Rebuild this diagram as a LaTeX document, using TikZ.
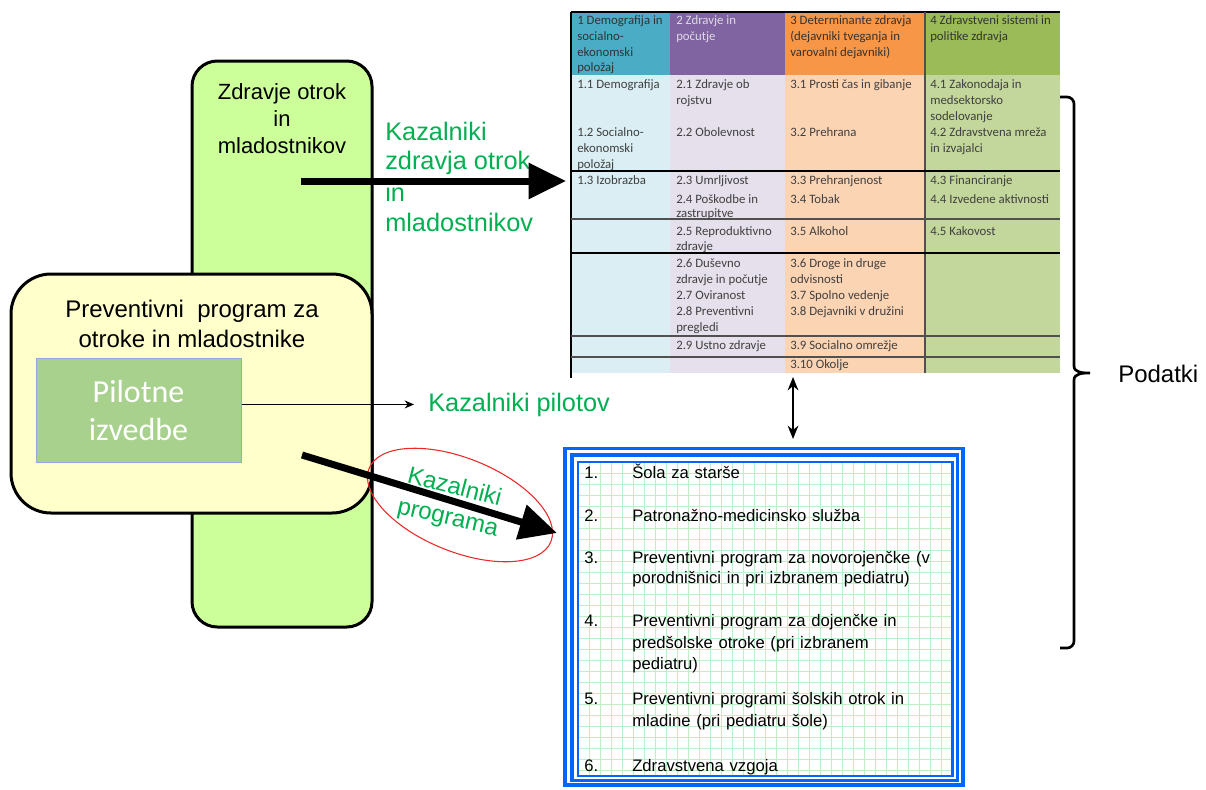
\documentclass[tikz,border=0pt]{standalone}
\usepackage{fontspec}
\setmainfont{Liberation Sans}
\newfontfamily\calfont{Carlito}
\usetikzlibrary{arrows.meta,shapes.geometric}
\newcommand\gboxfont{\fontsize{12.5pt}{15pt}\selectfont\spaceskip=0.34em plus 0.1em\relax}
\definecolor{zgreen}{RGB}{204,255,153}
\definecolor{zyellow}{RGB}{255,255,204}
\definecolor{pilfill}{RGB}{169,209,142}
\definecolor{pildraw}{RGB}{143,170,220}
\definecolor{kgreen}{RGB}{0,176,80}
\definecolor{hA}{RGB}{75,172,198}
\definecolor{hB}{RGB}{128,100,162}
\definecolor{hC}{RGB}{247,150,70}
\definecolor{hD}{RGB}{155,187,89}
\definecolor{bA}{RGB}{218,238,243}
\definecolor{bB}{RGB}{229,224,236}
\definecolor{bC}{RGB}{251,212,180}
\definecolor{bD}{RGB}{195,214,155}
\definecolor{tabtext}{RGB}{64,64,64}
\definecolor{hdlight}{RGB}{222,218,232}
\definecolor{gblue}{RGB}{0,102,255}
\definecolor{gline}{RGB}{190,240,200}
\definecolor{rowline}{RGB}{80,80,80}
\definecolor{ellred}{RGB}{235,40,40}
\begin{document}
\begin{tikzpicture}[x=0.75pt,y=-0.75pt,
  roundbox/.style={draw=black, line width=2.25pt},
  bigarrow/.style={line width=5.25pt, -{Triangle[length=28pt,width=26pt]}},
  tcell/.style={font=\calfont\fontsize{9.6pt}{12pt}\selectfont, text=tabtext, anchor=base west, inner sep=0pt},
  hcell/.style={tcell, text=black!80},
  gtext/.style={font=\gboxfont, anchor=base west, inner sep=0pt},
  ktext/.style={text=kgreen, font=\fontsize{19pt}{23pt}\selectfont, anchor=base west, inner sep=0pt},
  kprogtext/.style={text=kgreen, font=\fontsize{18pt}{22pt}\selectfont, anchor=base west, inner sep=0pt},
  btext/.style={font=\fontsize{16.5pt}{20pt}\selectfont, anchor=base, inner sep=0pt},
  ptext/.style={font=\fontsize{18pt}{22pt}\selectfont, anchor=base, inner sep=0pt},
  piltext/.style={font=\calfont\fontsize{24pt}{28pt}\selectfont, text=white, anchor=base, inner sep=0pt},
  rowsep/.style={line width=0.9pt},
  gridl/.style={gline, line width=0.6pt},
  gframe/.style={draw=gblue}
]
\useasboundingbox (0,0) rectangle (1206,789);

% ---------- left boxes ----------
\draw[roundbox, fill=zgreen, rounded corners=19pt] (192,61) rectangle (372,627);
\node[btext] (z1) at (282,99) {Zdravje otrok};
\node[btext] (z2) at (282,126) {in};
\node[btext] (z3) at (282,153) {mladostnikov};

\draw[roundbox, fill=zyellow, rounded corners=30pt] (11,274) rectangle (372,513);
\node[ptext] (p1) at (192,317) {Preventivni\ \ program za};
\node[ptext] (p2) at (192,347) {otroke in mladostnike};

\node[fill=pilfill, draw=pildraw, line width=0.75pt, minimum width=153.75pt, minimum height=78pt, inner sep=0pt] (pil) at (138.5,410) {};
\node[piltext] (pil1) at (138.5,402) {Pilotne};
\node[piltext] (pil2) at (138.5,440) {izvedbe};

% ---------- table ----------
\fill[hA] (571,12) rectangle (670,75);
\fill[hB] (670,12) rectangle (785,75);
\fill[hC] (785,12) rectangle (925,75);
\fill[hD] (925,12) rectangle (1060,75);
\fill[bA] (571,75) rectangle (670,373);
\fill[bB] (670,75) rectangle (785,373);
\fill[bC] (785,75) rectangle (925,373);
\fill[bD] (925,75) rectangle (1060,373);
\draw[line width=1pt] (571,12) -- (1060,12);
\draw[line width=1.2pt] (571,12) -- (571,378);
\draw[rowline, line width=0.9pt] (925,12) -- (925,373);
\draw[rowsep, black] (571,171) -- (1060,171);
\draw[rowsep, rowline] (571,219) -- (1060,219);
\draw[rowsep, black] (571,253) -- (1060,253);
\draw[rowsep, rowline] (571,336) -- (1060,336);
\draw[rowsep, rowline] (571,357) -- (1060,357);

% header texts
\foreach \tx/\ty/\tt [count=\i] in {
  577/24/{1 Demografija in}, 577/40/{socialno-}, 577/56/{ekonomski}, 577/71/{položaj},
  790/24/{3 Determinante zdravja}, 790/40/{(dejavniki tveganja in}, 790/56/{varovalni dejavniki)},
  930/24/{4 Zdravstveni sistemi in}, 930/40/{politike zdravja}}
  \node[hcell] (h\i) at (\tx,\ty) {\tt};
\node[tcell, text=hdlight] (hb1) at (676,24) {2 Zdravje in};
\node[tcell, text=hdlight] (hb2) at (676,40) {počutje};

% body texts
\foreach \tx/\ty/\tt [count=\i] in {
  577/88/{1.1 Demografija}, 577/136/{1.2 Socialno-}, 577/152/{ekonomski}, 577/168/{položaj},
  577/184/{1.3 Izobrazba},
  676/88/{2.1 Zdravje ob}, 676/104/{rojstvu}, 676/136/{2.2 Obolevnost}, 676/184/{2.3 Umrljivost},
  676/203/{2.4 Poškodbe in}, 676/217/{zastrupitve}, 676/235/{2.5 Reproduktivno}, 676/250/{zdravje},
  676/267/{2.6 Duševno}, 676/283/{zdravje in počutje}, 676/299/{2.7 Oviranost},
  676/315/{2.8 Preventivni}, 676/331/{pregledi}, 676/349/{2.9 Ustno zdravje},
  790/88/{3.1 Prosti čas in gibanje}, 790/136/{3.2 Prehrana}, 790/184/{3.3 Prehranjenost},
  790/203/{3.4 Tobak}, 790/235/{3.5 Alkohol}, 790/267/{3.6 Droge in druge}, 790/283/{odvisnosti},
  790/299/{3.7 Spolno vedenje}, 790/315/{3.8 Dejavniki v družini}, 790/349/{3.9 Socialno omrežje},
  790/368/{3.10 Okolje},
  930/88/{4.1 Zakonodaja in}, 930/104/{medsektorsko}, 930/120/{sodelovanje},
  930/136/{4.2 Zdravstvena mreža}, 930/152/{in izvajalci}, 930/184/{4.3 Financiranje},
  930/203/{4.4 Izvedene aktivnosti}, 930/235/{4.5 Kakovost}}
  \node[tcell] (c\i) at (\tx,\ty) {\tt};

% ---------- grid box ----------
\fill[white] (578,462) rectangle (952,776);
\foreach \gx in {589,600,...,950} \draw[gridl] (\gx,462) -- (\gx,776);
\foreach \gy in {473,484,...,775} \draw[gridl] (578,\gy) -- (952,\gy);
\draw[gframe, line width=2.4pt] (565,448.5) rectangle (963,785);
\draw[gframe, line width=2.8pt] (572,455) rectangle (957.5,780.5);
\draw[gframe, line width=1.6pt] (578,462) rectangle (952.5,776);

\foreach \ty/\tn/\tt [count=\i] in {
  478/{1.}/{Šola za starše},
  521/{2.}/{Patronažno-medicinsko služba},
  563/{3.}/{Preventivni program za novorojenčke (v},
  626/{4.}/{Preventivni program za dojenčke in},
  704/{5.}/{Preventivni programi šolskih otrok in},
  771/{6.}/{Zdravstvena vzgoja}}
{
  \node[gtext] (gn\i) at (584,\ty) {\tn};
  \node[gtext] (gt\i) at (632,\ty) {\tt};
}
\node[gtext] (gt3b) at (632,583) {porodnišnici in pri izbranem pediatru)};
\node[gtext] (gt4b) at (632,648) {predšolske otroke (pri izbranem};
\node[gtext] (gt4c) at (632,669) {pediatru)};
\node[gtext] (gt5b) at (632,726) {mladine (pri pediatru šole)};

% ---------- labels & connectors ----------
\node[ktext] (k1) at (385,140) {Kazalniki};
\node[ktext] (k2) at (385,169) {zdravja otrok};
\node[ktext] (k3) at (385,201) {in};
\node[ktext] (k4) at (385,231) {mladostnikov};

\coordinate (a1s) at (301,181);
\coordinate (a1e) at (566,181);
\draw[bigarrow] (a1s) -- (a1e);

\node[ktext] (kp) at (428,411) {Kazalniki pilotov};
\draw[line width=0.8pt, -{Stealth[length=7pt,width=6pt]}] (pil.east |- kp.west) -- ([xshift=-10.5pt]kp.west);

\node[draw=ellred, line width=0.8pt, ellipse, rotate=-22, minimum width=147pt, minimum height=70pt, inner sep=0pt] (ell) at (460,505) {};
\node[kprogtext, rotate=-14.5] (kprog1) at (406,482) {Kazalniki};
\node[kprogtext, rotate=-13] (kprog2) at (396,513) {programa};

\coordinate (a2s) at (302,455);
\coordinate (a2e) at (557,533);
\draw[bigarrow] (a2s) -- (a2e);

\coordinate (tb) at (793,377);
\coordinate (gb) at (793,439);
\draw[line width=1.6pt, {Stealth[length=10pt,width=8pt]}-{Stealth[length=10pt,width=8pt]}] (tb) -- (gb);

% brace
\draw[line width=2pt] (1060,97) -- (1067,97) to[out=0,in=90] (1074,104) -- (1074,366)
  to[out=-90,in=180] (1090,373) to[out=180,in=90] (1074,380) -- (1074,641)
  to[out=-90,in=0] (1067,648) -- (1060,648);
\node[font=\fontsize{18pt}{22pt}\selectfont, anchor=base west, inner sep=0pt] (pod) at (1118,382) {Podatki};
\end{tikzpicture}
\end{document}
